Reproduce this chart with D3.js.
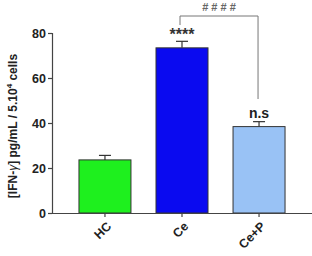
<!DOCTYPE html>
<html>
<head>
<meta charset="utf-8">
<script src="https://cdn.jsdelivr.net/npm/d3@7"></script>
<style>
  body { margin: 0; background: #fff; }
  svg { display: block; }
  text { font-family: "Liberation Sans", Arial, sans-serif; }
</style>
</head>
<body>
<div id="chart"></div>
<script>
// DATA
const groups = ["HC", "Ce", "Ce+P"];
const means = [23.6, 73.4, 38.4];
const errors = [2.0, 2.9, 2.2];
const colors = ["#1ef01e", "#0a0af0", "#99c2f5"];
const yTicks = [0, 20, 40, 60, 80];
const marks = ["", "****", "n.s"];

const width = 312, height = 256;
const x0 = 52, yBase = 213, yTop = 33;

const svg = d3.select("#chart")
  .append("svg")
  .attr("width", width)
  .attr("height", height);

// SCALES
const xScale = d3.scaleBand()
  .domain(groups)
  .range([x0, 312])
  .paddingInner(0.325)
  .paddingOuter(0.35);

const yScale = d3.scaleLinear()
  .domain([0, 80])
  .range([yBase, yTop]);

// BARS
svg.selectAll(".bar")
  .data(groups)
  .join("rect")
  .attr("class", "bar")
  .attr("x", d => xScale(d))
  .attr("y", (d, i) => yScale(means[i]))
  .attr("width", xScale.bandwidth())
  .attr("height", (d, i) => yBase - yScale(means[i]))
  .attr("fill", (d, i) => colors[i])
  .attr("stroke", "#333")
  .attr("stroke-width", 1);

// ERROR BARS (upper only)
const cx = d => xScale(d) + xScale.bandwidth() / 2;
const err = svg.append("g").attr("stroke", "#333").attr("stroke-width", 1.2);
groups.forEach((g, i) => {
  err.append("line")
    .attr("x1", cx(g)).attr("x2", cx(g))
    .attr("y1", yScale(means[i])).attr("y2", yScale(means[i] + errors[i]));
  err.append("line")
    .attr("x1", cx(g) - 6).attr("x2", cx(g) + 6)
    .attr("y1", yScale(means[i] + errors[i])).attr("y2", yScale(means[i] + errors[i]));
});

// AXES
const yAxis = d3.axisLeft(yScale).tickValues(yTicks).tickSize(4).tickPadding(2);
const xAxis = d3.axisBottom(xScale).tickSize(4).tickSizeOuter(0).tickFormat("");

const gy = svg.append("g").attr("transform", `translate(${x0},0)`).call(yAxis);
gy.select(".domain").attr("stroke", "#444").attr("stroke-width", 1.2);
gy.selectAll(".tick line").attr("stroke", "#444").attr("stroke-width", 1.2);
gy.selectAll(".tick text")
  .attr("font-size", 12.5).attr("font-weight", "bold").attr("fill", "#222")
  .attr("font-family", "Liberation Sans, Arial, sans-serif");

const gx = svg.append("g").attr("transform", `translate(0,${yBase})`).call(xAxis);
gx.select(".domain").attr("stroke", "#444").attr("stroke-width", 1.2);
gx.selectAll(".tick line").attr("stroke", "#444").attr("stroke-width", 1.2);

// ROTATED CATEGORY LABELS
svg.selectAll(".xlabel")
  .data(groups)
  .join("text")
  .attr("class", "xlabel")
  .attr("transform", d => `translate(${cx(d) + 4},${yBase + 11}) rotate(-45)`)
  .attr("text-anchor", "end")
  .attr("dy", "0.35em")
  .attr("font-size", 12.5)
  .attr("font-weight", "bold")
  .attr("fill", "#222")
  .text(d => d);

// Y AXIS TITLE
const title = svg.append("text")
  .attr("transform", `translate(17,${(yBase + yTop) / 2 + 3}) rotate(-90)`)
  .attr("text-anchor", "middle")
  .attr("font-size", 12)
  .attr("font-weight", "bold")
  .attr("fill", "#222");
title.append("tspan").text("[IFN-");
title.append("tspan").attr("font-style", "italic").attr("font-weight", "normal").text("γ");
title.append("tspan").text("] pg/mL / 5.10");
title.append("tspan").attr("font-size", 8).attr("dy", -5).text("4");
title.append("tspan").attr("dy", 5).text(" cells");

// SIGNIFICANCE MARKS
svg.selectAll(".mark")
  .data(groups)
  .join("text")
  .attr("class", "mark")
  .attr("x", d => cx(d))
  .attr("y", (d, i) => yScale(means[i] + errors[i]) - (i === 1 ? 1 : 4))
  .attr("text-anchor", "middle")
  .attr("font-size", (d, i) => i === 1 ? 16 : 14)
  .attr("font-weight", "bold")
  .attr("fill", (d, i) => i === 1 ? "#333" : "#222")
  .text((d, i) => marks[i]);

// BRACKET Ce vs Ce+P
const bx1 = cx("Ce") - 2, bx2 = cx("Ce+P") - 1, by = 16;
svg.append("path")
  .attr("d", `M${bx1},25V${by}H${bx2}V99`)
  .attr("fill", "none")
  .attr("stroke", "#777")
  .attr("stroke-width", 1);
svg.append("text")
  .attr("x", (bx1 + bx2) / 2)
  .attr("y", 11)
  .attr("text-anchor", "middle")
  .attr("font-size", 11)
  .attr("font-weight", "bold")
  .attr("fill", "#666")
  .text("# # # #");
</script>
</body>
</html>
